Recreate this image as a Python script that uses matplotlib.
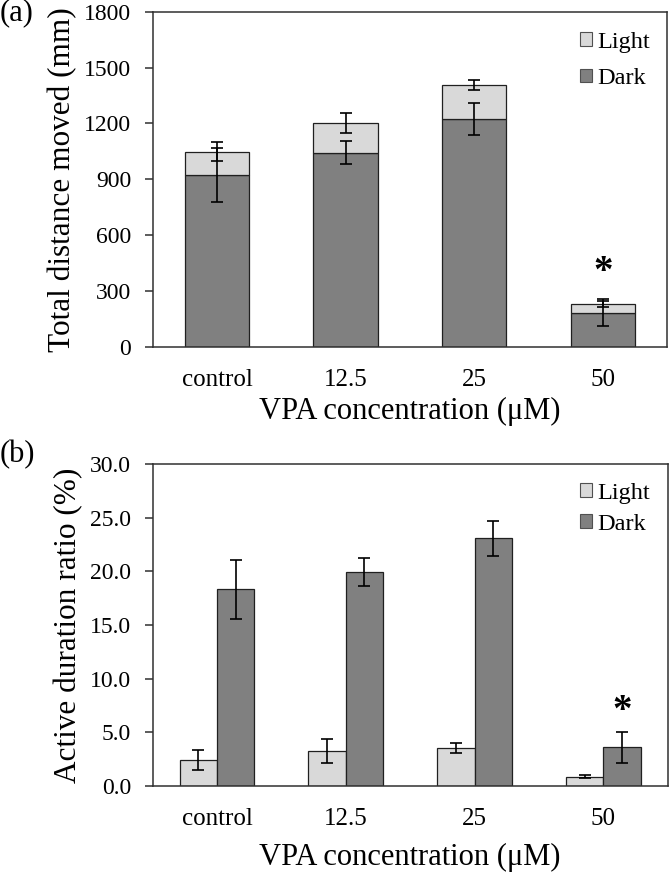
import matplotlib
matplotlib.use("Agg")
import matplotlib.pyplot as plt
import numpy as np
from matplotlib.patches import Patch

plt.rcParams['font.family'] = ['Liberation Serif', 'DejaVu Serif']

categories = ["control", "12.5", "25", "50"]

# (a) Total distance moved (mm), stacked
dist_dark = [925, 1043, 1222, 183]
dist_dark_err = [145, 60, 85, 72]
dist_light = [123, 159, 182, 48]
dist_light_err = [50, 52, 27, 16]

# (b) Active duration ratio (%)
ratio_light = [2.45, 3.25, 3.53, 0.87]
ratio_light_err = [0.95, 1.15, 0.5, 0.12]
ratio_dark = [18.33, 19.9, 23.06, 3.6]
ratio_dark_err = [2.75, 1.3, 1.65, 1.45]

c_dark = "#808080"
c_light = "#d9d9d9"

W, H = 670, 874
fig = plt.figure(figsize=(W/100, H/100), dpi=100)
x = np.arange(len(categories))

def style(ax):
    for s in ax.spines.values():
        s.set_linewidth(1.1)
        s.set_color("#303030")
    ax.tick_params(axis='y', direction='out', length=5.5, width=1.1, labelsize=17, pad=10, color="#303030")
    ax.tick_params(axis='x', length=0, labelsize=18, pad=16)
    ax.set_xlim(-0.5, 3.5)

def legend(ax, y_top, spacing):
    h = [Patch(facecolor=c_light, edgecolor='#505050', linewidth=0.8),
         Patch(facecolor=c_dark, edgecolor='#505050', linewidth=0.8)]
    ax.legend(h, ["Light", "Dark"], loc='upper left', frameon=False, fontsize=17.5,
              handlelength=0.5, handleheight=0.5, handletextpad=0.2, labelspacing=spacing,
              borderpad=0, borderaxespad=0,
              bbox_to_anchor=(580/W, 1 - y_top/H), bbox_transform=fig.transFigure)

ekw = dict(ecolor='black', elinewidth=1.2, capsize=4, capthick=1.2)

# Top panel
ax1 = fig.add_axes([152.7/W, 1-346.7/H, 514.3/W, 335/H])
ax1.bar(x, dist_dark, 0.5, color=c_dark, edgecolor='#202020', linewidth=0.9)
total = np.array(dist_dark) + np.array(dist_light)
ax1.bar(x, dist_light, 0.5, bottom=dist_dark, color=c_light, edgecolor='#202020', linewidth=0.9)
ax1.errorbar(x, dist_dark, yerr=dist_dark_err, fmt='none', **ekw)
ax1.errorbar(x, total, yerr=dist_light_err, fmt='none', **ekw)
ax1.set_ylim(0, 1800)
ax1.set_yticks(np.arange(0, 1801, 300))
ax1.set_xticks(x)
ax1.set_xticklabels(categories)
style(ax1)
ax1.set_ylabel("Total distance moved (mm)", fontsize=22.5, labelpad=5)
ax1.set_xlabel("VPA concentration (μM)", fontsize=22, labelpad=4)
ax1.text(3, 396, "*", ha='center', va='center', fontsize=28, fontweight='bold')
legend(ax1, 32, 0.62)

# Bottom panel
ax2 = fig.add_axes([152.7/W, 1-786/H, 515/W, 322/H])
w = 0.29
ax2.bar(x - w/2, ratio_light, w, color=c_light, edgecolor='#202020', linewidth=0.9)
ax2.bar(x + w/2, ratio_dark, w, color=c_dark, edgecolor='#202020', linewidth=0.9)
ax2.errorbar(x - w/2, ratio_light, yerr=ratio_light_err, fmt='none', **ekw)
ax2.errorbar(x + w/2, ratio_dark, yerr=ratio_dark_err, fmt='none', **ekw)
ax2.set_ylim(0, 30)
yt = np.arange(0, 30.1, 5)
ax2.set_yticks(yt)
ax2.set_yticklabels([f"{v:.1f}" for v in yt])
ax2.set_xticks(x)
ax2.set_xticklabels(categories)
style(ax2)
ax2.set_ylabel("Active duration ratio (%)", fontsize=22.5, labelpad=5)
ax2.set_xlabel("VPA concentration (μM)", fontsize=22, labelpad=9)
ax2.text(3 + w/2, 6.9, "*", ha='center', va='center', fontsize=28, fontweight='bold')
legend(ax2, 483, 0.4)

fig.text(0/W, 1-13/H, "(a)", fontsize=22, va='center', ha='left')
fig.text(0/W, 1-455/H, "(b)", fontsize=22, va='center', ha='left')

fig.savefig("out.png", dpi=100)
